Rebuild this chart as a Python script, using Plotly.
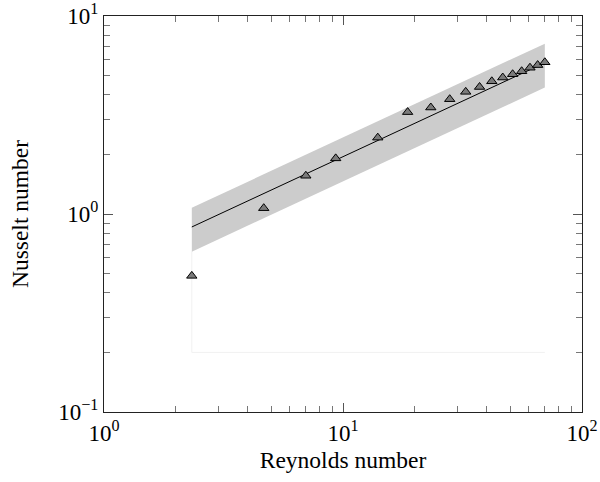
import plotly.graph_objects as go

# Data
reynolds = [2.33, 4.66, 6.99, 9.32, 13.98, 18.64, 23.3, 27.96, 32.62, 37.28,
            41.94, 46.6, 51.26, 55.92, 60.58, 65.24, 69.9]
nusselt = [0.487, 1.07, 1.56, 1.91, 2.43, 3.27, 3.45, 3.80, 4.14, 4.38,
           4.68, 4.89, 5.08, 5.26, 5.48, 5.65, 5.84]

fit_re = [2.33, 69.9]
fit_nu = [0.86, 5.8]
band_upper = [1.075, 7.25]
band_lower = [0.645, 4.35]

faint_re = [2.33, 2.33, 69.9]
faint_nu = [0.645, 0.2, 0.2]

x_tickvals = [1, 10, 100]
x_ticktext = ["10<sup>0</sup>", "10<sup>1</sup>", "10<sup>2</sup>"]
y_tickvals = [0.1, 1, 10]
y_ticktext = ["10<sup>\u22121</sup>", "10<sup>0</sup>", "10<sup>1</sup>"]
minor_x = [2, 3, 4, 5, 6, 7, 8, 9, 20, 30, 40, 50, 60, 70, 80, 90]
minor_y = [0.2, 0.3, 0.4, 0.5, 0.6, 0.7, 0.8, 0.9, 2, 3, 4, 5, 6, 7, 8, 9]

FONT = "Liberation Serif"

fig = go.Figure()

fig.add_trace(go.Scatter(x=faint_re, y=faint_nu, mode="lines",
                         line=dict(color="#f1f1f1", width=1),
                         hoverinfo="skip", showlegend=False))
fig.add_trace(go.Scatter(x=fit_re, y=band_lower, mode="lines",
                         line=dict(width=0, color="#cccccc"),
                         showlegend=False, hoverinfo="skip"))
fig.add_trace(go.Scatter(x=fit_re, y=band_upper, mode="lines",
                         line=dict(width=0, color="#cccccc"),
                         fill="tonexty", fillcolor="#cccccc",
                         showlegend=False, hoverinfo="skip"))
fig.add_trace(go.Scatter(x=fit_re, y=fit_nu, mode="lines",
                         line=dict(color="black", width=1),
                         showlegend=False))
fig.add_trace(go.Scatter(x=reynolds, y=nusselt, mode="markers",
                         marker=dict(symbol="triangle-up", size=9,
                                     color="#7a7a7a",
                                     line=dict(color="black", width=1)),
                         showlegend=False))

axis_common = dict(
    type="log",
    showgrid=False,
    zeroline=False,
    showline=True,
    linecolor="#222222",
    linewidth=1,
    mirror="allticks",
    ticks="inside",
    ticklen=9,
    tickwidth=1,
    tickcolor="#555555",
    tickfont=dict(family=FONT, size=23, color="black"),
    tickmode="array",
    ticklabeloverflow="allow",
)

fig.update_xaxes(**axis_common,
                 range=[0, 2],
                 tickvals=x_tickvals, ticktext=x_ticktext,
                 minor=dict(tickmode="array", tickvals=minor_x,
                            ticks="inside", ticklen=6, tickcolor="#777777",
                            showgrid=False),
                 title=dict(text="Reynolds number",
                            font=dict(family=FONT, size=23.5, color="black"),
                            standoff=6))
fig.update_yaxes(**axis_common,
                 range=[-1, 1],
                 tickvals=y_tickvals, ticktext=y_ticktext,
                 minor=dict(tickmode="array", tickvals=minor_y,
                            ticks="inside", ticklen=6, tickcolor="#777777",
                            showgrid=False),
                 title=dict(text="Nusselt number",
                            font=dict(family=FONT, size=23.5, color="black"),
                            standoff=23))

fig.update_layout(
    width=600, height=482,
    margin=dict(l=104, r=18, t=16, b=70, autoexpand=False),
    plot_bgcolor="white",
    paper_bgcolor="white",
    showlegend=False,
)

fig.write_html("out.html",
               config={"displayModeBar": False},
               post_script="document.body.style.margin='0px';")
